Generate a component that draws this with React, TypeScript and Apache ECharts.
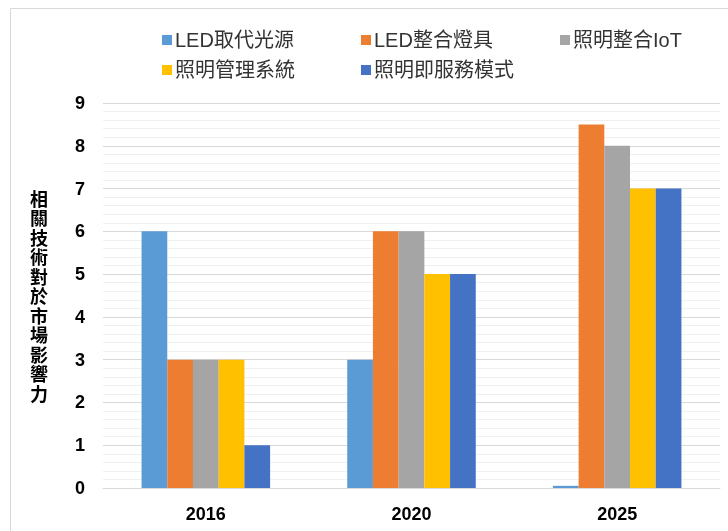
import React, { useEffect, useRef } from "react";
import * as echarts from "echarts";

const categories = ["2016", "2020", "2025"];
const seriesNames = ["LED取代光源", "LED整合燈具", "照明整合IoT", "照明管理系統", "照明即服務模式"];
const ledReplace = [6, 3, 0.05];
const ledFixture = [3, 6, 8.5];
const iot = [3, 6, 8];
const mgmt = [3, 5, 7];
const laas = [1, 5, 7];
const colors = ["#5B9BD5", "#ED7D31", "#A5A5A5", "#FFC000", "#4472C4"];
const yAxisTitle = "相關技術對於市場影響力";

export default function App() {
  const ref = useRef<HTMLDivElement>(null);
  useEffect(() => {
    if (!ref.current) return;
    const chart = echarts.init(ref.current, undefined, { renderer: "svg" });
    const values = [ledReplace, ledFixture, iot, mgmt, laas];
    const legendPos = [
      { left: 157, top: 25 },
      { left: 356, top: 25 },
      { left: 555, top: 25 },
      { left: 157, top: 55 },
      { left: 356, top: 55 },
    ];
    chart.setOption({
      animation: false,
      textStyle: { fontFamily: "'Liberation Sans', 'Noto Sans CJK TC', sans-serif" },
      color: colors,
      legend: seriesNames.map((n, i) => ({
        data: [n],
        left: legendPos[i].left,
        top: legendPos[i].top,
        itemWidth: 10,
        itemHeight: 10,
        itemGap: 4,
        icon: "rect",
        textStyle: { fontSize: 20, color: "#333", padding: [0, 0, 0, -2] },
        selectedMode: false,
      })),
      grid: { left: 103, right: 8, top: 103, bottom: 43 },
      xAxis: {
        type: "category",
        data: categories,
        axisLine: { lineStyle: { color: "#d9d9d9" } },
        axisTick: { show: false },
        axisLabel: { fontSize: 18, fontWeight: "bold", color: "#000", margin: 17 },
      },
      yAxis: {
        type: "value",
        min: 0,
        max: 9,
        interval: 1,
        axisLine: { show: false },
        axisTick: { show: false },
        axisLabel: { fontSize: 18, fontWeight: "bold", color: "#000", margin: 18 },
        splitLine: { lineStyle: { color: "#d9d9d9", width: 1 } },
        minorTick: { show: false, splitNumber: 5 },
        minorSplitLine: { show: true, lineStyle: { color: "#f0f0f0", width: 1 } },
      },
      graphic: [
        {
          type: "rect",
          shape: { x: 10.5, y: 8.5, width: 740, height: 560 },
          style: { fill: "none", stroke: "#d9d9d9", lineWidth: 1 },
          silent: true,
        },
        {
          type: "text",
          left: 30,
          top: 188,
          style: {
            text: yAxisTitle.split("").join("\n"),
            fontSize: 18,
            fontWeight: "bold",
            lineHeight: 19.5,
            fill: "#000",
            align: "center",
            fontFamily: "'Noto Sans CJK TC', sans-serif",
          },
        },
      ],
      series: seriesNames.map((n, i) => ({
        name: n,
        type: "bar",
        data: values[i],
        barGap: "0%",
        barCategoryGap: "37.5%",
        itemStyle: { color: colors[i] },
      })),
    });
    return () => chart.dispose();
  }, []);
  return <div ref={ref} style={{ position: "fixed", left: 0, top: 0, width: 728, height: 531 }} />;
}
